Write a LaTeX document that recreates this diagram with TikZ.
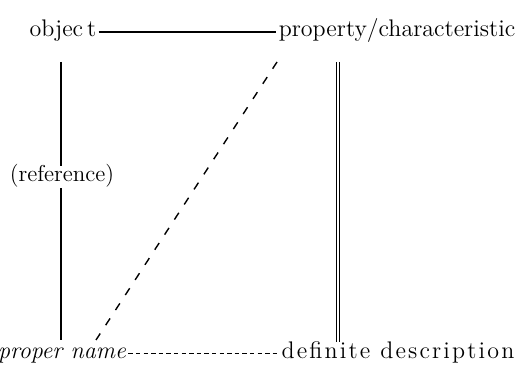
\documentclass[tikz,border=0pt]{standalone}
\usepackage{fontspec}
\setmainfont{Latin Modern Roman}
\newfontfamily\widefont[LetterSpace=9]{Latin Modern Roman}
\usepackage{tikz}
\usetikzlibrary{positioning,calc}
\tikzset{
  term/.style={font=\fontsize{12}{14}\selectfont, inner sep=1pt,
               text height=1.6ex, text depth=.45ex},
  link/.style={line width=0.6pt},
  twin/.style={double, double distance=1pt, line width=0.45pt},
  slant/.style={line width=0.7pt, dash pattern=on 4pt off 5pt},
  dots/.style={line width=0.5pt, dash pattern=on 2.2pt off 1.6pt},
}
\begin{document}
\begin{tikzpicture}[x=0.5pt, y=0.5pt]
  \useasboundingbox (0,0) rectangle (531,370);
  % terms
  \node[term] (obj) at (63,338) {objec\,t};
  \node[term] (prop) at (397,338) {property/characteristic};
  \node[term, font=\fontsize{11.5}{13}\selectfont] (ref) at (62,193) {(reference)};
  \node[term] (pn) at (62,16) {\itshape proper name};
  \node[term, font=\widefont\fontsize{12}{14}\selectfont] (def) at (398,16)
    {definite description};
  % ends of the free lines
  \coordinate (l1) at (61,308);
  \coordinate (l2) at (61,30);
  \coordinate (d1) at (338,308);
  \coordinate (d2) at (338,28);
  \coordinate (s1) at (277,308);
  \coordinate (s2) at (96,30);
  % connectors
  \draw[link] (obj.east) -- (prop.west);
  \draw[link] (l1) -- (l1 |- ref.north);
  \draw[link] (l2 |- ref.south) -- (l2);
  \draw[twin] (d1) -- (d2);
  \draw[slant] (s1) -- (s2);
  \draw[dots] (pn.east) -- (def.west);
\end{tikzpicture}
\end{document}
